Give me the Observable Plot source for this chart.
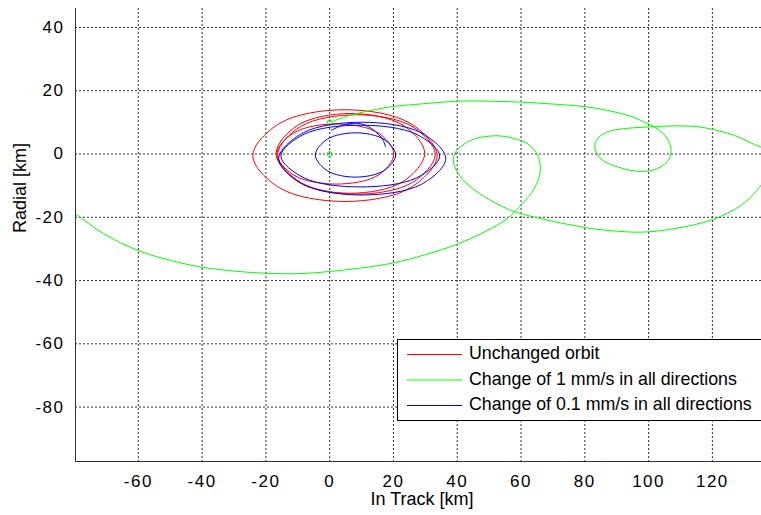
<!DOCTYPE html>
<html>
<head>
<meta charset="utf-8">
<script src="https://cdn.jsdelivr.net/npm/d3@7"></script>
<script src="https://cdn.jsdelivr.net/npm/@observablehq/plot@0.6"></script>
<style>
  html, body { margin: 0; padding: 0; background: #fff; }
  #chart { width: 761px; height: 515px; }
</style>
</head>
<body>
<div id="chart"></div>
<script>
// ---- axis setup ----
const xDomain = [-79.7, 135.4];
const yDomain = [-97.2, 46.0];
const xTicks = [-60, -40, -20, 0, 20, 40, 60, 80, 100, 120];
const yTicks = [-80, -60, -40, -20, 0, 20, 40];
const xTitle = "In Track [km]";
const yTitle = "Radial [km]";

// ---- legend ----
const seriesNames = ["Unchanged orbit", "Change of 1 mm/s in all directions", "Change of 0.1 mm/s in all directions"];
const seriesColors = ["#ff0000", "#00ff00", "#0000ff"];

// ---- Unchanged orbit (red), loops [in-track, radial] ----
const red1 = [[33.7,-0.5],[25.2,9.75],[4.8,14.0],[-15.6,9.75],[-24.1,-0.5],[-15.6,-10.75],[4.8,-15.0],[25.2,-10.75]];
const red2 = [[29.8,0.2],[23.0,9.1],[6.5,12.8],[-10.0,9.1],[-16.8,0.2],[-10.0,-8.7],[6.5,-12.4],[23.0,-8.7]];
const red3 = [[33.1,-0.15],[25.9,8.7],[8.4,12.4],[-9.1,8.7],[-16.3,-0.15],[-9.1,-9.0],[8.4,-12.7],[25.9,-9.0]];
const red4 = [[20.1,0.0],[15.2,6.7],[2.0,9.5],[-11.2,6.7],[-16.6,0.0],[-11.2,-6.7],[2.0,-9.5],[15.2,-6.7]];

// ---- Change of 0.1 mm/s (blue) ----
const blue1 = [[36.4,-1.45],[28.7,6.7],[10.2,10.05],[-8.3,6.7],[-16.0,-1.45],[-8.3,-9.6],[10.2,-12.95],[28.7,-9.6]];
const blue2 = [[34.5,-0.65],[27.2,6.25],[9.6,9.1],[-8.0,6.25],[-15.3,-0.65],[-8.0,-7.55],[9.6,-10.4],[27.2,-7.55]];
const blue3 = [[20.7,-0.3],[17.0,4.65],[8.1,6.7],[-0.8,4.65],[-4.5,-0.3],[-0.8,-5.25],[8.1,-7.3],[17.0,-5.25]];
const blueEnd = [[0.5,7.5],[5.0,9.4],[10.0,9.5],[14.0,7.4],[16.6,4.6],[17.5,2.4]];

// ---- Change of 1 mm/s (green) ----
const green = [
  [-83.0,-17.2],[-79.5,-19.1],[-70.9,-25.2],[-60.1,-30.5],[-50.0,-33.6],[-40.0,-35.8],[-29.0,-37.1],
  [-19.9,-37.7],[-9.0,-37.8],[0.3,-37.1],[10.0,-36.0],[20.1,-34.4],[30.0,-31.8],[40.0,-28.5],
  [48.4,-24.7],[55.7,-20.4],[60.4,-15.7],[64.1,-11.0],[66.0,-5.7],[65.2,-0.4],[62.0,3.3],
  [55.7,5.4],[50.5,5.7],[44.2,4.3],[39.5,0.6],[38.8,-2.5],[41.1,-7.3],[46.3,-12.0],[56.8,-17.8],
  [66.2,-20.4],[76.6,-22.6],[84.0,-23.8],[97.6,-24.7],[108.0,-23.6],[120.1,-20.7],[129.0,-16.2],
  [133.5,-12.0],[137.3,-7.0],[139.3,-2.5],[137.5,0.9],[133.2,3.0],[126.9,5.9],[116.4,8.5],[109.1,8.9],[100.7,8.6],
  [92.3,8.0],[87.1,7.0],[84.0,4.9],[83.1,2.2],[85.0,-1.5],[90.3,-4.1],[97.6,-5.5],[102.8,-4.6],
  [106.5,-1.5],[107.0,1.7],[105.8,5.0],[103.0,7.8],[99.7,9.6],[94.4,11.9],[87.1,13.8],[79.8,15.0],
  [70.0,15.8],[59.9,16.4],[50.0,16.7],[40.0,16.7],[29.5,15.9],[19.1,14.9],[8.6,12.8],[2.4,10.9],[0.8,10.1]
];
const greenMarks = [[0,0],[0,10]];

const font = "'Liberation Sans', Arial, Helvetica, sans-serif";
const px = d => d[0], py = d => d[1];
const loop = (data, color) => Plot.line(data, {x: px, y: py, curve: "catmull-rom-closed", stroke: color, strokeWidth: 1});

const svg = Plot.plot({
  width: 761,
  height: 515,
  marginLeft: 75,
  marginRight: 0,
  marginTop: 8,
  marginBottom: 54,
  style: {fontFamily: font, fontSize: "17px", background: "#fff", color: "#000"},
  x: {domain: xDomain},
  y: {domain: yDomain},
  marks: [
    Plot.gridX(xTicks, {stroke: "#000", strokeOpacity: 0.8, strokeDasharray: "2,2"}),
    Plot.gridY(yTicks, {stroke: "#000", strokeOpacity: 0.8, strokeDasharray: "2,2"}),
    Plot.axisX(xTicks, {tickSize: 0, tickPadding: 13, label: null, fontSize: 17, tickFormat: d => String(d)}),
    Plot.axisY(yTicks, {tickSize: 0, tickPadding: 11, label: null, fontSize: 17, tickFormat: d => String(d)}),
    loop(red1, seriesColors[0]),
    loop(red2, seriesColors[0]),
    loop(red3, seriesColors[0]),
    loop(red4, seriesColors[0]),
    Plot.line(green, {x: px, y: py, curve: "catmull-rom", stroke: seriesColors[1], strokeWidth: 1, clip: true}),
    Plot.dot(greenMarks, {x: px, y: py, r: 2.5, stroke: seriesColors[1], strokeWidth: 1}),
    loop(blue1, seriesColors[2]),
    loop(blue2, seriesColors[2]),
    loop(blue3, seriesColors[2]),
    Plot.line(blueEnd, {x: px, y: py, curve: "catmull-rom", stroke: seriesColors[2], strokeWidth: 1}),
    Plot.ruleX([xDomain[0]], {stroke: "#333", strokeWidth: 1}),
    Plot.ruleY([yDomain[0]], {stroke: "#333", strokeWidth: 1})
  ]
});

const s = d3.select(svg);
s.selectAll("g[aria-label$='tick label'] text").attr("letter-spacing", "1.5px");

// axis titles
s.append("text").attr("x", 422).attr("y", 500).attr("text-anchor", "middle")
  .attr("dominant-baseline", "middle").style("font-family", font).style("font-size", "18px").text(xTitle);
s.append("text").attr("transform", "translate(21,188) rotate(-90)").attr("text-anchor", "middle")
  .attr("dominant-baseline", "middle").style("font-family", font).style("font-size", "18px").text(yTitle);

// legend
const lg = s.append("g").attr("text-anchor", "start");
lg.append("rect").attr("x", 397.5).attr("y", 339.5).attr("width", 370).attr("height", 81)
  .attr("fill", "#fff").attr("stroke", "#000").attr("stroke-width", 1);
seriesNames.forEach((name, i) => {
  const yy = 354.5 + i * 25.5;
  lg.append("line").attr("x1", 407).attr("x2", 462).attr("y1", yy).attr("y2", yy)
    .attr("stroke", seriesColors[i]).attr("stroke-width", 1);
  lg.append("text").attr("x", 469).attr("y", yy).attr("text-anchor", "start").attr("dominant-baseline", "middle")
    .style("font-family", font).style("font-size", "17.8px").text(name);
});

document.getElementById("chart").appendChild(svg);
</script>
</body>
</html>
